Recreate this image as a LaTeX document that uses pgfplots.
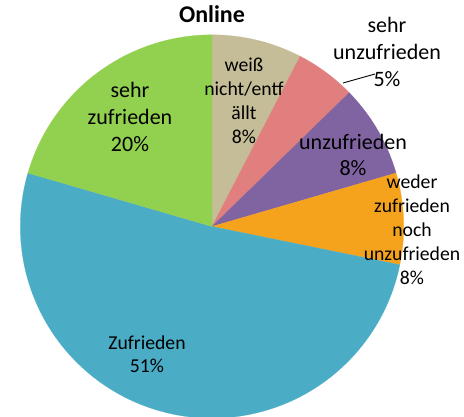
\documentclass[border=0pt]{standalone}
\usepackage{fontspec}
\setmainfont{Carlito}
\usepackage{pgfplots}
\pgfplotsset{compat=1.18}
\definecolor{cTan}{HTML}{C4BD97}
\definecolor{cPink}{HTML}{E07F7E}
\definecolor{cPurple}{HTML}{8064A2}
\definecolor{cOrange}{HTML}{F5A31C}
\definecolor{cBlue}{HTML}{4BACC6}
\definecolor{cGreen}{HTML}{92D050}
\begin{document}
\begin{tikzpicture}[x=1pt,y=1pt]
\path[use as bounding box] (0,0) rectangle (464,416);
\def\cx{212}\def\cy{189.5}\def\Rad{191.7}
% shares in percent (clockwise from the top)
\def\vA{7.6}\def\vB{5.1}\def\vC{7.8}\def\vD{7.7}\def\vE{51.3}\def\vF{20.5}
\pgfmathsetmacro\aA{90}
\pgfmathsetmacro\aB{\aA-3.6*\vA}
\pgfmathsetmacro\aC{\aB-3.6*\vB}
\pgfmathsetmacro\aD{\aC-3.6*\vC}
\pgfmathsetmacro\aE{\aD-3.6*\vD}
\pgfmathsetmacro\aF{\aE-3.6*\vE}
\pgfmathsetmacro\aG{\aF-3.6*\vF}
\begin{axis}[at={(0,0)},anchor=south west,scale only axis,width=464pt,height=416pt,
  xmin=0,xmax=464,ymin=0,ymax=416,hide axis]
\addplot[fill=cTan,draw=cTan,line width=0.2pt,domain=\aB:\aA,samples=30] ({\cx+\Rad*cos(x)},{\cy+\Rad*sin(x)}) -- (axis cs:\cx,\cy) -- cycle;
\addplot[fill=cPink,draw=cPink,line width=0.2pt,domain=\aC:\aB,samples=30] ({\cx+\Rad*cos(x)},{\cy+\Rad*sin(x)}) -- (axis cs:\cx,\cy) -- cycle;
\addplot[fill=cPurple,draw=cPurple,line width=0.2pt,domain=\aD:\aC,samples=30] ({\cx+\Rad*cos(x)},{\cy+\Rad*sin(x)}) -- (axis cs:\cx,\cy) -- cycle;
\addplot[fill=cOrange,draw=cOrange,line width=0.2pt,domain=\aE:\aD,samples=30] ({\cx+\Rad*cos(x)},{\cy+\Rad*sin(x)}) -- (axis cs:\cx,\cy) -- cycle;
\addplot[fill=cBlue,draw=cBlue,line width=0.2pt,domain=\aF:\aE,samples=120] ({\cx+\Rad*cos(x)},{\cy+\Rad*sin(x)}) -- (axis cs:\cx,\cy) -- cycle;
\addplot[fill=cGreen,draw=cGreen,line width=0.2pt,domain=\aG:\aF,samples=60] ({\cx+\Rad*cos(x)},{\cy+\Rad*sin(x)}) -- (axis cs:\cx,\cy) -- cycle;
% leader line
\addplot[black,line width=0.9pt] coordinates {(343,333) (375,342)};
% title
\node[font=\fontsize{24}{29}\selectfont\bfseries,anchor=base] at (axis cs:212,393.8) {Online};
% small labels
\def\sm{\fontsize{19.7}{24}\selectfont}
\def\bg{\fontsize{22}{26.8}\selectfont}
\node[font=\sm,anchor=base] at (axis cs:244,344.5) {weiß};
\node[font=\sm,anchor=base] at (axis cs:244,320.5) {nicht/entf};
\node[font=\sm,anchor=base] at (axis cs:244,296.5) {ällt};
\node[font=\sm,anchor=base] at (axis cs:244,272.5) {8\%};
\node[font=\sm,anchor=base] at (axis cs:412,227.5) {weder};
\node[font=\sm,anchor=base] at (axis cs:412,203.5) {zufrieden};
\node[font=\sm,anchor=base] at (axis cs:412,179.5) {noch};
\node[font=\sm,anchor=base] at (axis cs:412,155.5) {unzufrieden};
\node[font=\sm,anchor=base] at (axis cs:412,131.5) {8\%};
\node[font=\sm,anchor=base] at (axis cs:147,67) {Zufrieden};
\node[font=\sm,anchor=base] at (axis cs:147,43) {51\%};
% big labels
\node[font=\bg,anchor=base] at (axis cs:387,383.5) {sehr};
\node[font=\bg,anchor=base] at (axis cs:387,356.5) {unzufrieden};
\node[font=\bg,anchor=base] at (axis cs:387,329.5) {5\%};
\node[font=\bg,anchor=base] at (axis cs:353,266.7) {unzufrieden};
\node[font=\bg,anchor=base] at (axis cs:353,240.2) {8\%};
\node[font=\bg,anchor=base] at (axis cs:130,318.7) {sehr};
\node[font=\bg,anchor=base] at (axis cs:130,291.5) {zufrieden};
\node[font=\bg,anchor=base] at (axis cs:130,264.3) {20\%};
\end{axis}
\end{tikzpicture}
\end{document}
